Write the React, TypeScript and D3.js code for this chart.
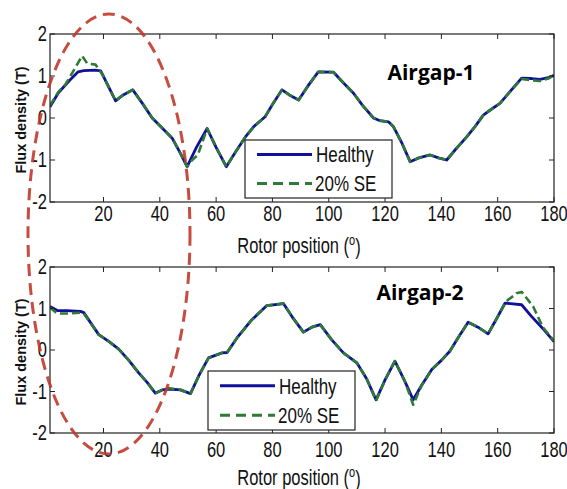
import React from "react";
import * as d3 from "d3";

// ---------- DATA ----------
const xTicks = [20, 40, 60, 80, 100, 120, 140, 160, 180];
const yTicks = [-2, -1, 0, 1, 2];
const legendLabels = ["Healthy", "20% SE"];
const panelTitles = ["Airgap-1", "Airgap-2"];

// Airgap-1, Healthy
const ag1HealthyAngle = [1, 4, 8, 11, 13, 17, 19, 24.3, 27, 30.4, 34, 37.3, 41, 44.4, 47, 49.7, 53, 56.8, 60, 63.6, 67, 70.4, 73.3, 77.4, 80, 83.4, 86, 89.3, 93, 96.3, 101.7, 105, 108.8, 112, 115.9, 118, 121.2, 123, 126, 128.9, 132, 136, 139, 141.9, 145, 149, 152, 154.9, 158, 160.8, 164, 168.5, 172, 175, 178, 180];
const ag1HealthyValue = [0.27, 0.6, 0.9, 1.1, 1.13, 1.14, 1.12, 0.41, 0.55, 0.67, 0.33, 0.0, -0.25, -0.48, -0.8, -1.16, -0.7, -0.25, -0.7, -1.16, -0.8, -0.45, -0.21, 0.03, 0.32, 0.67, 0.55, 0.43, 0.8, 1.1, 1.09, 0.85, 0.59, 0.3, 0.0, -0.06, -0.09, -0.21, -0.6, -1.04, -0.95, -0.88, -0.95, -1.0, -0.75, -0.45, -0.2, 0.07, 0.22, 0.35, 0.6, 0.95, 0.94, 0.92, 0.96, 1.02];

// Airgap-1, 20% SE
const ag1FaultAngle = [1, 4, 6.5, 10, 12.4, 14.2, 17.2, 18.3, 19.5, 24.3, 27, 30.4, 34, 37.3, 41, 44.4, 47, 49.7, 51.5, 53.5, 56.8, 60, 63.6, 67, 70.4, 73.3, 77.4, 80, 83.4, 86, 89.3, 93, 96.3, 101.7, 105, 108.8, 112, 115.9, 118, 121.2, 123, 126, 128.9, 132, 136, 139, 141.9, 145, 149, 152, 154.9, 158, 160.8, 164, 168.5, 172, 175, 178, 180];
const ag1FaultValue = [0.3, 0.62, 0.8, 1.2, 1.48, 1.3, 1.27, 1.16, 1.05, 0.41, 0.55, 0.67, 0.33, 0.0, -0.25, -0.48, -0.8, -1.16, -1.0, -0.88, -0.25, -0.7, -1.16, -0.8, -0.45, -0.21, 0.03, 0.32, 0.67, 0.55, 0.43, 0.8, 1.1, 1.09, 0.85, 0.59, 0.3, 0.0, -0.06, -0.09, -0.21, -0.6, -1.04, -0.95, -0.88, -0.95, -1.0, -0.75, -0.45, -0.2, 0.07, 0.22, 0.35, 0.6, 0.93, 0.9, 0.88, 0.94, 1.02];

// Airgap-2, Healthy
const ag2HealthyAngle = [1, 3.6, 7, 11.8, 13, 18.3, 22, 25.4, 29, 32.5, 35.5, 38.4, 41, 43.2, 47.3, 50.9, 54, 57.3, 62.1, 63.9, 67.4, 72.7, 78, 83.9, 87, 91, 94, 97, 101, 105.2, 110, 113.5, 116.8, 120, 123.5, 127, 130, 133, 136.6, 140, 143, 146, 149.5, 153, 156.6, 160, 162.6, 168.5, 172, 176, 180];
const ag2HealthyValue = [1.05, 0.95, 0.95, 0.93, 0.9, 0.37, 0.2, 0.02, -0.25, -0.55, -0.78, -1.04, -0.96, -0.94, -0.96, -1.05, -0.6, -0.19, -0.07, -0.06, 0.29, 0.73, 1.07, 1.12, 0.8, 0.43, 0.55, 0.61, 0.25, -0.07, -0.31, -0.7, -1.2, -0.72, -0.27, -0.75, -1.2, -0.85, -0.47, -0.25, -0.03, 0.3, 0.67, 0.55, 0.39, 0.8, 1.13, 1.09, 0.81, 0.52, 0.2];

// Airgap-2, 20% SE
const ag2FaultAngle = [1, 3.6, 7, 11.8, 13, 18.3, 22, 25.4, 29, 32.5, 35.5, 38.4, 41, 43.2, 47.3, 50.9, 54, 57.3, 62.1, 63.9, 67.4, 72.7, 78, 83.9, 87, 91, 94, 97, 101, 105.2, 110, 113.5, 116.8, 120, 123.5, 127, 130, 133, 136.6, 140, 143, 146, 149.5, 153, 156.6, 160, 162.6, 163.7, 165.5, 166.7, 168.5, 172.6, 176, 180];
const ag2FaultValue = [1.02, 0.88, 0.88, 0.9, 0.88, 0.37, 0.2, 0.02, -0.25, -0.55, -0.78, -1.04, -0.96, -0.92, -0.96, -1.05, -0.6, -0.19, -0.07, -0.06, 0.29, 0.73, 1.07, 1.12, 0.8, 0.43, 0.55, 0.61, 0.25, -0.07, -0.31, -0.7, -1.22, -0.72, -0.27, -0.75, -1.32, -0.85, -0.47, -0.25, -0.03, 0.3, 0.67, 0.55, 0.39, 0.8, 1.13, 1.21, 1.3, 1.37, 1.4, 1.05, 0.55, 0.22];

// ---------- LAYOUT ----------
const W = 567;
const H = 489;
const FONT = "'Liberation Sans', Arial, Helvetica, sans-serif";
const SY = 1.3; // vertical stretch of text as in the reference
const BLUE = "#10109a";
const GREEN = "#2f7a35";

type Panel = {
  top: number;
  bottom: number;
  tickLabelY: number;
  axisLabelY: number;
  titleY: number;
  titleX: number;
  legend: { x: number; y: number; w: number; h: number };
  healthy: [number[], number[]];
  fault: [number[], number[]];
  title: string;
};

const panels: Panel[] = [
  {
    top: 34,
    bottom: 202,
    tickLabelY: 214,
    axisLabelY: 246,
    titleY: 80,
    titleX: 431,
    legend: { x: 245, y: 140, w: 147, h: 58 },
    healthy: [ag1HealthyAngle, ag1HealthyValue],
    fault: [ag1FaultAngle, ag1FaultValue],
    title: panelTitles[0],
  },
  {
    top: 267,
    bottom: 433,
    tickLabelY: 450,
    axisLabelY: 478,
    titleY: 300,
    titleX: 420,
    legend: { x: 208, y: 371, w: 147, h: 59 },
    healthy: [ag2HealthyAngle, ag2HealthyValue],
    fault: [ag2FaultAngle, ag2FaultValue],
    title: panelTitles[1],
  },
];

const LEFT = 50;
const RIGHT = 554;

function STText({ x, y, children, anchor = "middle", size = 16.5, weight = "normal" }: any) {
  return (
    <g transform={`translate(${x},${y}) scale(1,${SY})`}>
      <text
        x={0}
        y={0}
        textAnchor={anchor}
        dominantBaseline="central"
        fontFamily={FONT}
        fontSize={size}
        fontWeight={weight}
        fill="#111"
      >
        {children}
      </text>
    </g>
  );
}

function PanelView({ p, idx }: { p: Panel; idx: number }) {
  const x = d3.scaleLinear().domain([1, 180]).range([LEFT, RIGHT]);
  const y = d3.scaleLinear().domain([-2, 2]).range([p.bottom, p.top]);
  const line = d3
    .line<[number, number]>()
    .x((d) => x(d[0]))
    .y((d) => y(d[1]));
  const hPts = p.healthy[0].map((a, i) => [a, p.healthy[1][i]] as [number, number]);
  const fPts = p.fault[0].map((a, i) => [a, p.fault[1][i]] as [number, number]);
  const clipId = `clip${idx}`;
  const lg = p.legend;
  const l1 = lg.y + lg.h * 0.25;
  const l2 = lg.y + lg.h * 0.75;
  return (
    <g>
      <defs>
        <clipPath id={clipId}>
          <rect x={LEFT} y={p.top} width={RIGHT - LEFT} height={p.bottom - p.top} />
        </clipPath>
      </defs>
      <rect x={LEFT} y={p.top} width={RIGHT - LEFT} height={p.bottom - p.top} fill="#fff" />
      <g clipPath={`url(#${clipId})`}>
        <path d={line(hPts) || ""} fill="none" stroke={BLUE} strokeWidth={2.8} strokeLinejoin="round" />
        <path
          d={line(fPts) || ""}
          fill="none"
          stroke={GREEN}
          strokeWidth={2.6}
          strokeDasharray="8,4"
          strokeLinejoin="round"
        />
      </g>
      {/* ticks */}
      {xTicks.map((t) => (
        <g key={"xt" + t}>
          <line x1={x(t)} x2={x(t)} y1={p.bottom} y2={p.bottom - 5} stroke="#222" />
          <line x1={x(t)} x2={x(t)} y1={p.top} y2={p.top + 5} stroke="#222" />
          <STText x={x(t)} y={p.tickLabelY}>{String(t)}</STText>
        </g>
      ))}
      {yTicks.map((t) => (
        <g key={"yt" + t}>
          <line x1={LEFT} x2={LEFT + 5} y1={y(t)} y2={y(t)} stroke="#222" />
          <line x1={RIGHT} x2={RIGHT - 5} y1={y(t)} y2={y(t)} stroke="#222" />
          <STText x={47} y={y(t)} anchor="end">{String(t)}</STText>
        </g>
      ))}
      <rect
        x={LEFT}
        y={p.top}
        width={RIGHT - LEFT}
        height={p.bottom - p.top}
        fill="none"
        stroke="#222"
        strokeWidth={1.2}
      />
      {/* axis labels */}
      <g transform={`translate(299,${p.axisLabelY}) scale(1,${SY})`}>
        <text textAnchor="middle" dominantBaseline="central" fontFamily={FONT} fontSize={16.5} fill="#111">
          Rotor position (<tspan dy={-5} fontSize={11}>o</tspan>
          <tspan dy={5}>)</tspan>
        </text>
      </g>
      <text
        transform={`translate(21,${(p.top + p.bottom) / 2 + 2}) rotate(-90)`}
        textAnchor="middle"
        dominantBaseline="central"
        fontFamily={FONT}
        fontSize={14.5}
        fontWeight="bold"
        fill="#111"
      >
        Flux density (T)
      </text>
      {/* title */}
      <text
        x={p.titleX}
        y={p.titleY}
        textAnchor="middle"
        fontFamily="'Open Sans', sans-serif"
        fontSize={21}
        fontWeight="bold"
        fill="#000"
      >
        {p.title}
      </text>
      {/* legend */}
      <rect x={lg.x} y={lg.y} width={lg.w} height={lg.h} fill="#fff" stroke="#222" strokeWidth={1.2} />
      <line x1={lg.x + 12} x2={lg.x + 67} y1={l1} y2={l1} stroke={BLUE} strokeWidth={2.8} />
      <line
        x1={lg.x + 12}
        x2={lg.x + 67}
        y1={l2}
        y2={l2}
        stroke={GREEN}
        strokeWidth={2.8}
        strokeDasharray="10,6"
      />
      <STText x={lg.x + 71} y={l1} anchor="start" size={17}>{legendLabels[0]}</STText>
      <STText x={lg.x + 70} y={l2} anchor="start" size={17}>{legendLabels[1]}</STText>
    </g>
  );
}

export default function App() {
  return (
    <svg
      width={W}
      height={H}
      viewBox={`0 0 ${W} ${H}`}
      style={{ position: "absolute", left: 0, top: 0, background: "#fff" }}
    >
      <rect x={0} y={0} width={W} height={H} fill="#fff" />
      {panels.map((p, i) => (
        <PanelView key={i} p={p} idx={i} />
      ))}
      {/* highlighted region */}
      <ellipse
        cx={109}
        cy={234}
        rx={81}
        ry={220}
        fill="none"
        stroke="#c0392b"
        strokeOpacity={0.9}
        strokeWidth={3}
        strokeDasharray="12,7"
      />
    </svg>
  );
}
